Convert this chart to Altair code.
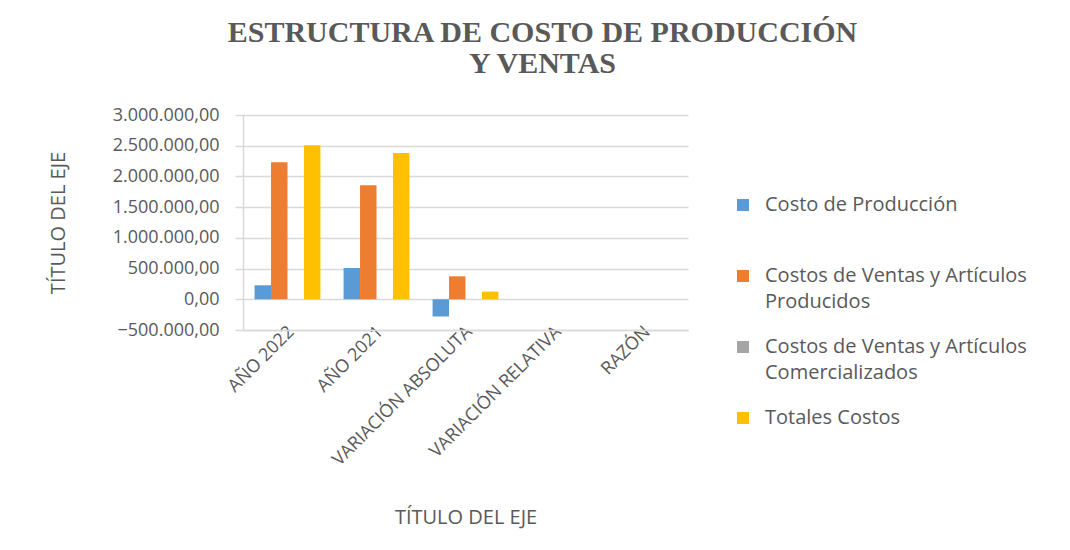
import altair as alt
import pandas as pd

categories = ["AÑO 2022", "AÑO 2021", "VARIACIÓN ABSOLUTA", "VARIACIÓN RELATIVA", "RAZÓN"]
series = [
    "Costo de Producción",
    "Costos de Ventas y Artículos Producidos",
    "Costos de Ventas y Artículos Comercializados",
    "Totales Costos",
]
costo_produccion = [228000, 508000, -280000, -0.55, 0.45]
costos_ventas_producidos = [2229000, 1855000, 374000, 0.20, 1.20]
costos_ventas_comercializados = [0, 0, 0, 0, 0]
totales_costos = [2508000, 2383000, 125000, 0.05, 1.05]
colors = ["#5B9BD5", "#ED7D31", "#A5A5A5", "#FFC000"]
y_ticks = [-500000, 0, 500000, 1000000, 1500000, 2000000, 2500000, 3000000]

values = [costo_produccion, costos_ventas_producidos, costos_ventas_comercializados, totales_costos]
rows = []
for s, vals in zip(series, values):
    for c, v in zip(categories, vals):
        rows.append({"categoria": c, "serie": s, "valor": v})
df = pd.DataFrame(rows)

TXT = "#595959"
GRID = "#D9D9D9"
FONT = "Open Sans"

label_expr = (
    "indexof(datum.label, 'Artículos ') > 0 ? "
    "[substring(datum.label, 0, indexof(datum.label, 'Artículos ') + 9), "
    "substring(datum.label, indexof(datum.label, 'Artículos ') + 10)] : "
    "[datum.label, ' ']"
)

chart = (
    alt.Chart(df)
    .mark_bar()
    .encode(
        x=alt.X(
            "categoria:N",
            sort=categories,
            scale=alt.Scale(paddingInner=0.26, paddingOuter=0.13),
            axis=alt.Axis(
                title="TÍTULO DEL EJE",
                titleY=187,
                titleBaseline="middle",
                labelAngle=-45,
                labelAlign="right",
                labelBaseline="middle",
                labelPadding=-1,
                labelOffset=4,
                labelLimit=400,
                ticks=False,
                domainColor=GRID,
                domainWidth=1.5,
                grid=False,
            ),
        ),
        xOffset=alt.XOffset(
            "serie:N", sort=series, scale=alt.Scale(paddingInner=0, paddingOuter=0)
        ),
        y=alt.Y(
            "valor:Q",
            scale=alt.Scale(domain=[-500000, 3000000], nice=False, zero=False),
            axis=alt.Axis(
                title="TÍTULO DEL EJE",
                titleX=-185,
                titleBaseline="middle",
                values=y_ticks,
                format=",.2f",
                tickSize=8,
                tickColor=GRID,
                tickWidth=1.5,
                labelPadding=16,
                domainColor=GRID,
                domainWidth=1.5,
                gridColor=GRID,
                gridWidth=1.5,
            ),
        ),
        color=alt.Color(
            "serie:N",
            sort=series,
            scale=alt.Scale(domain=series, range=colors),
            legend=alt.Legend(
                title=None,
                orient="none",
                legendX=490,
                legendY=80,
                symbolType="square",
                symbolSize=144,
                symbolStrokeWidth=0,
                labelOffset=12,
                labelLimit=400,
                labelExpr=label_expr,
                labelBaseline="middle",
                gridAlign="all",
                rowPadding=25,
                padding=0,
            ),
        ),
    )
    .properties(
        width=445,
        height=215,
        autosize=alt.AutoSizeParams(type="none"),
        padding={"left": 235, "top": 107, "right": 374, "bottom": 212},
        title=alt.TitleParams(
            text=["ESTRUCTURA DE COSTO DE PRODUCCIÓN", "Y VENTAS"],
            font="Liberation Serif",
            fontSize=30,
            fontWeight="bold",
            color=TXT,
            lineHeight=31,
            anchor="middle",
            frame="group",
            dx=77,
            offset=27,
        ),
    )
    .configure(
        locale={"number": {"decimal": ",", "thousands": ".", "grouping": [3], "currency": ["", ""]}},
        style={"guide-label": {"lineHeight": 26}},
    )
    .configure_view(stroke=None)
    .configure_axis(
        labelFont=FONT,
        labelFontSize=18,
        labelColor=TXT,
        titleFont=FONT,
        titleFontSize=20,
        titleFontWeight="normal",
        titleColor=TXT,
    )
    .configure_legend(
        labelFont=FONT,
        labelFontSize=20,
        labelColor=TXT,
    )
)

chart.save("out.html", embed_options={"renderer": "svg", "actions": False})
